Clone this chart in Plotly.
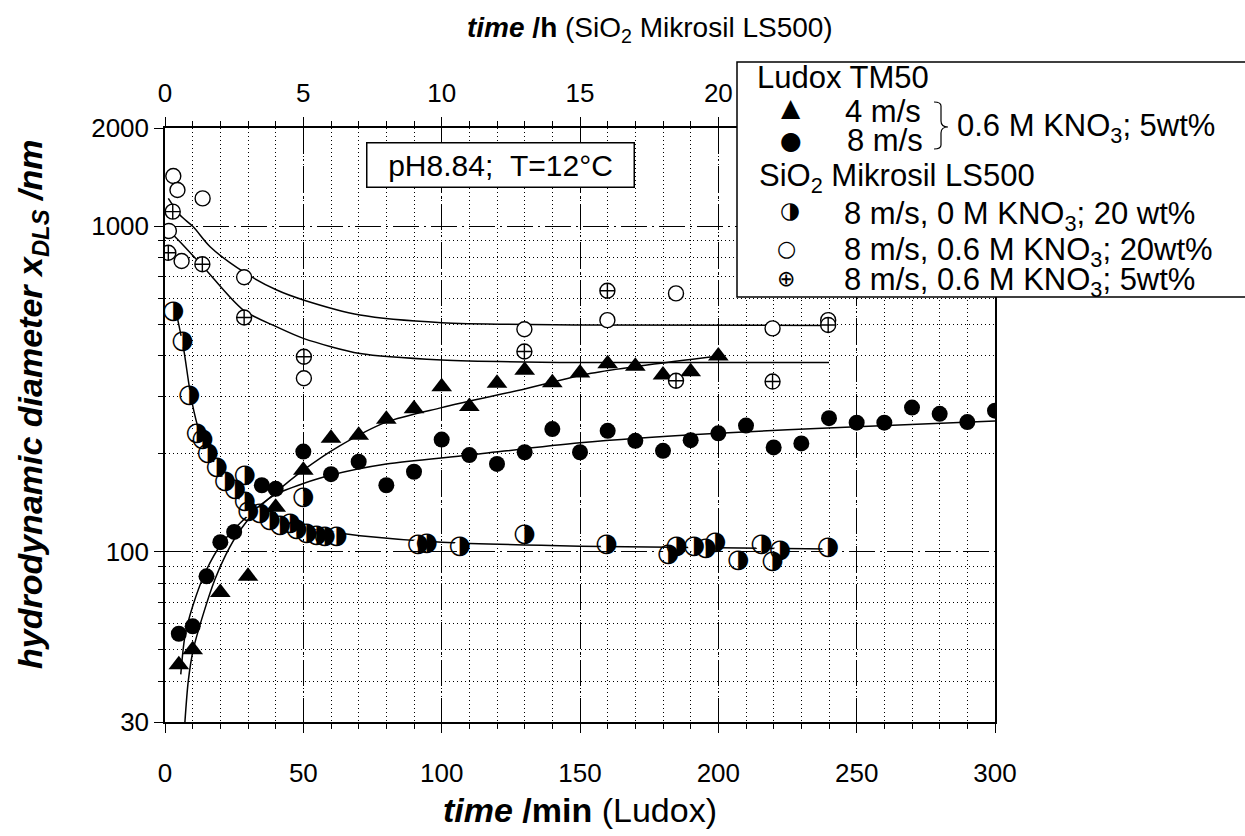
import math
import plotly.graph_objects as go

# ---- Ludox TM50, bottom axis (time in min) ----
tri_min = [5, 10, 20, 30, 40, 50, 60, 70, 80, 90, 100, 110, 120, 130, 140, 150, 160, 170, 180, 190, 200]
tri_nm = [45, 50, 75, 84, 137, 178, 223, 228, 255, 275, 321, 279, 329, 361, 330, 354, 378, 371, 349, 357, 399]

dot_min = [5, 10, 15, 20, 25, 35, 40, 50, 60, 70, 80, 90, 100, 110, 120, 130, 140, 150,
           160, 170, 180, 190, 200, 210, 220, 230, 240, 250, 260, 270, 280, 290, 300]
dot_nm = [56, 59, 84, 107, 115, 160, 156, 203, 173, 189, 160, 176, 221, 198, 186, 202, 238, 202,
          235, 219, 204, 220, 231, 244, 209, 215, 257, 249, 249, 277, 265, 250, 271]

fit_tri_min = [7.2, 8.4, 10.2, 14, 18, 22, 27, 33, 40, 50, 63, 80, 100, 130, 154, 200]
fit_tri_nm = [30, 40, 50, 65, 82, 98, 116, 134, 152, 178, 211, 250, 277, 316, 353, 399]

fit_dot_min = [5.7, 7.2, 10, 15, 20.5, 27, 33, 40, 50, 60, 80, 110, 150, 200, 250, 300]
fit_dot_nm = [42, 55, 68, 88, 106, 122, 136, 150, 162, 172, 186, 198, 216, 231, 242, 252]

# ---- SiO2 Mikrosil LS500, top axis (time in h) ----
half_h = [0.30, 0.64, 0.88, 1.15, 1.36, 1.55, 1.87, 2.17, 2.53, 2.89, 2.89, 3.01, 3.43, 3.79,
          4.16, 4.52, 4.76, 5.0, 5.12, 5.48, 5.78, 6.2, 9.15, 9.46, 10.66, 13.0, 15.96, 18.19,
          18.49, 19.12, 19.55, 19.89, 20.72, 21.56, 21.96, 22.23, 23.97]
half_nm = [546, 442, 301, 231, 221, 200, 182, 164, 155, 172, 143, 133, 131, 125,
           120, 122, 117, 147, 114, 112, 111, 111, 105, 106, 104, 113, 105, 98,
           104, 104, 102, 107, 94, 105, 93.5, 101, 103]

open_h = [0.14, 0.30, 0.45, 0.60, 1.36, 2.86, 5.02, 12.99, 15.99, 18.47, 21.96, 23.97]
open_nm = [966, 1424, 1290, 781, 1216, 696, 341, 482, 514, 621, 485, 514]

plus_h = [0.12, 0.28, 1.35, 2.86, 5.02, 12.99, 15.99, 18.47, 21.96, 23.97]
plus_nm = [828, 1107, 763, 524, 397, 412, 633, 335, 333, 497]

fit_half_h = [0.36, 0.66, 0.96, 1.26, 1.55, 1.87, 2.2, 2.55, 3.0, 3.5, 4.2, 5.0, 7.05, 10, 15, 24]
fit_half_nm = [565, 426, 292, 231, 205, 182, 163, 150, 136, 128, 121, 118, 112, 107, 104, 102]

fit_open_h = [0.12, 0.54, 1.02, 1.63, 2.83, 4.04, 5.0, 7.05, 10, 15, 24]
fit_open_nm = [1216, 1081, 995, 864, 724, 636, 593, 533, 505, 497, 495]

fit_plus_h = [0.06, 0.54, 1.38, 2.83, 4.04, 5.0, 7.05, 10, 15, 24]
fit_plus_nm = [985, 895, 750, 552, 490, 452, 406, 388, 381, 381]

# axis ticks
min_ticks = [0, 50, 100, 150, 200, 250, 300]
h_ticks = [0, 5, 10, 15, 20, 25]
nm_ticks = [30, 100, 1000, 2000]
nm_minor = [40, 50, 60, 70, 80, 90, 200, 300, 400, 500, 600, 700, 800, 900]

FONT = "Liberation Sans, Arial, sans-serif"
GLYPH = "DejaVu Sans, Noto Sans Symbols2, sans-serif"
fit_line = dict(color="black", width=1.5, shape="spline", smoothing=0.8)

fig = go.Figure()

# fitted curves
fig.add_trace(go.Scatter(x=fit_tri_min, y=fit_tri_nm, mode="lines", line=fit_line))
fig.add_trace(go.Scatter(x=fit_dot_min, y=fit_dot_nm, mode="lines", line=fit_line))
fig.add_trace(go.Scatter(x=fit_half_h, y=fit_half_nm, mode="lines", line=fit_line, xaxis="x2"))
fig.add_trace(go.Scatter(x=fit_open_h, y=fit_open_nm, mode="lines", line=fit_line, xaxis="x2"))
fig.add_trace(go.Scatter(x=fit_plus_h, y=fit_plus_nm, mode="lines", line=fit_line, xaxis="x2"))

# measured points
fig.add_trace(go.Scatter(x=open_h, y=open_nm, mode="markers", xaxis="x2",
                         marker=dict(symbol="circle", size=15, color="white",
                                     line=dict(color="black", width=1.4))))
fig.add_trace(go.Scatter(x=plus_h, y=plus_nm, mode="markers", xaxis="x2",
                         marker=dict(symbol="circle-cross", size=15, color="white",
                                     line=dict(color="black", width=1.4))))
# half-filled circles: white disc underneath, outline and right half from the glyph
fig.add_trace(go.Scatter(x=half_h, y=half_nm, mode="markers", xaxis="x2",
                         marker=dict(symbol="circle", size=12, color="white",
                                     line=dict(width=0))))
fig.add_trace(go.Scatter(x=half_h, y=half_nm, mode="text", xaxis="x2",
                         text=["\u25d1"] * len(half_h), textposition="middle center",
                         textfont=dict(family=GLYPH, size=26, color="black")))
fig.add_trace(go.Scatter(x=tri_min, y=tri_nm, mode="markers",
                         marker=dict(symbol="triangle-up", size=18, color="black")))
fig.add_trace(go.Scatter(x=dot_min, y=dot_nm, mode="markers",
                         marker=dict(symbol="circle", size=16, color="black")))

major_dash = "26px,5px,2px,5px"
minor_dash = "1px,3px"

fig.update_layout(
    width=1245, height=836,
    margin=dict(l=165, r=250, t=128, b=114),
    plot_bgcolor="white", paper_bgcolor="white",
    showlegend=False,
    font=dict(family=FONT, size=26, color="black"),
    xaxis=dict(
        range=[0, 300], tickvals=min_ticks, ticks="outside", ticklen=9, tickwidth=1.3,
        tickcolor="black", showline=True, linewidth=1.5, linecolor="black", zeroline=False,
        ticklabelstandoff=18,
        showgrid=True, gridcolor="black", gridwidth=1, griddash=major_dash,
        minor=dict(dtick=10, ticks="outside", ticklen=5, tickwidth=1, tickcolor="black",
                   showgrid=True, gridcolor="black", gridwidth=1, griddash=minor_dash),
    ),
    xaxis2=dict(
        overlaying="x", side="top", range=[0, 30], tickvals=h_ticks, ticks="outside",
        ticklen=9, tickwidth=1.3, tickcolor="black", showline=True, linewidth=1.5,
        linecolor="black", showgrid=False, zeroline=False, ticklabelstandoff=5,
        minor=dict(dtick=1, ticks="outside", ticklen=5, tickwidth=1, tickcolor="black",
                   showgrid=False),
    ),
    yaxis=dict(
        type="log", range=[math.log10(30), math.log10(2000)], tickvals=nm_ticks,
        ticktext=[str(v) for v in nm_ticks], ticks="outside", ticklen=9, tickwidth=1.3,
        tickcolor="black", showline=True, mirror=True, linewidth=1.5, linecolor="black",
        showgrid=True, gridcolor="black", gridwidth=1, griddash=major_dash, zeroline=False,
        minor=dict(tickmode="array", tickvals=nm_minor, ticks="outside", ticklen=5,
                   tickwidth=1, tickcolor="black", showgrid=True, gridcolor="black",
                   gridwidth=1, griddash=minor_dash),
    ),
)


def px(x):
    return (x - 165) / 830


def py(y):
    return (722 - y) / 594


# legend frame (drawn above the axes so it hides the frame corner)
fig.add_shape(type="rect", xref="paper", yref="paper", layer="above",
              x0=px(737), x1=px(1260), y0=py(297), y1=py(62),
              fillcolor="white", line=dict(color="black", width=1.5))
# brace joining the two Ludox entries
fig.add_shape(type="path", xref="paper", yref="paper", layer="above",
              path=("M {0},{1} Q {2},{1} {2},{3} L {2},{4} Q {2},{5} {6},{5} "
                    "Q {2},{5} {2},{7} L {2},{8} Q {2},{9} {0},{9}").format(
                  px(934), py(102), px(941), py(106), py(121), py(127), px(948),
                  py(133), py(145), py(149)),
              line=dict(color="black", width=1.2))

ann = []


def label(x, y, text, size=31, xanchor="left", family=FONT, **kw):
    ann.append(dict(x=px(x), y=py(y), xref="paper", yref="paper", text=text,
                    showarrow=False, xanchor=xanchor, yanchor="middle",
                    font=dict(family=family, size=size, color="black"), **kw))


label(755, 77, "Ludox TM50")
label(791, 108, "\u25b2", size=25, xanchor="center", family=GLYPH)
label(843, 112, "4 m/s")
label(791, 140, "\u25cf", size=25, xanchor="center", family=GLYPH)
label(845, 140, "8 m/s")
label(955, 128, "0.6 M KNO<sub>3</sub>; 5wt%")
label(757, 178, "SiO<sub>2</sub> Mikrosil LS500")
label(790, 210, "\u25d1", size=23, xanchor="center", family=GLYPH)
label(842, 216, "8 m/s, 0 M KNO<sub>3</sub>; 20 wt%")
label(786, 248, "\u25cb", size=22, xanchor="center", family=GLYPH)
label(842, 252, "8 m/s, 0.6 M KNO<sub>3</sub>; 20wt%")
label(786, 278, "\u2295", size=22, xanchor="center", family=GLYPH)
label(842, 282, "8 m/s, 0.6 M KNO<sub>3</sub>; 5wt%")

# condition box
ann.append(dict(x=px(500), y=py(165), xref="paper", yref="paper",
                text="pH8.84;\u00a0\u00a0T=12\u00b0C", showarrow=False,
                xanchor="center", yanchor="middle", width=266, height=43, borderpad=0,
                bgcolor="white", bordercolor="black", borderwidth=1.5,
                font=dict(family=FONT, size=30, color="black")))

# axis titles
ann.append(dict(x=px(580), y=py(810), xref="paper", yref="paper", showarrow=False,
                text="<b><i>time</i> /min</b> (Ludox)", xanchor="center", yanchor="middle",
                font=dict(family=FONT, size=34, color="black")))
ann.append(dict(x=px(650), y=py(30), xref="paper", yref="paper", showarrow=False,
                text="<b><i>time</i> /h</b> (SiO<sub>2</sub> Mikrosil LS500)",
                xanchor="center", yanchor="middle",
                font=dict(family=FONT, size=28, color="black")))
ann.append(dict(x=px(32), y=py(405), xref="paper", yref="paper", showarrow=False,
                text="<b><i>hydrodynamic diameter x<sub>DLS</sub> /nm</i></b>",
                textangle=-90, xanchor="center", yanchor="middle",
                font=dict(family=FONT, size=34, color="black")))

fig.update_layout(annotations=ann)

fig.write_html("out.html", config={"displayModeBar": False},
               post_script="document.body.style.margin='0';"
                           "document.body.style.overflow='hidden';")
